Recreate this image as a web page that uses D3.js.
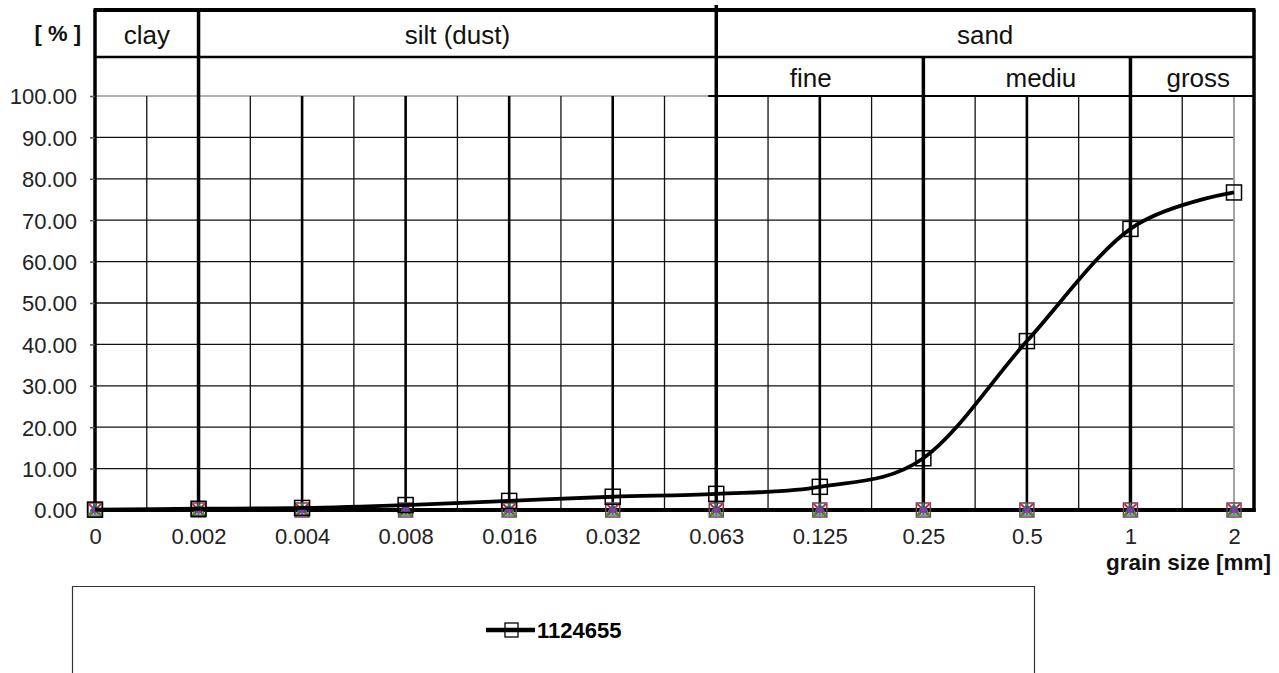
<!DOCTYPE html>
<html>
<head>
<meta charset="utf-8">
<script src="https://cdn.jsdelivr.net/npm/d3@7"></script>
<style>
html,body{margin:0;padding:0;background:#fff;}
svg{display:block;font-family:"Liberation Sans",Arial,sans-serif;}
</style>
</head>
<body>
<svg id="chart" width="1279" height="673"></svg>
<script>
// ---- data ----
const categories = ["0","0.002","0.004","0.008","0.016","0.032","0.063","0.125","0.25","0.5","1","2"];
const seriesName = "1124655";
const seriesValues = [0.1, 0.3, 0.5, 1.2, 2.2, 3.2, 3.9, 5.6, 12.5, 40.8, 67.9, 76.7];
const zeroSeriesValues = [0,0,0,0,0,0,0,0,0,0,0,0];
const yTicks = [0,10,20,30,40,50,60,70,80,90,100];
const headerTop = [{label:"clay", from:"0", to:"0.002"},{label:"silt (dust)", from:"0.002", to:"0.063"},{label:"sand", from:"0.063", to:null}];
const headerSub = [{label:"fine", from:"0.063", to:"0.25"},{label:"mediu", from:"0.25", to:"1"},{label:"gross", from:"1", to:null}];
const boundaryCats = ["0.002","0.063","0.25","1"];

(function(){
const svg = d3.select("#chart");
const x = d3.scalePoint().domain(categories).range([95, 1234]);
const y = d3.scaleLinear().domain([0,100]).range([510, 96]);
const step = x.step();
const frameR = 1254, frameTop = 10, rowMid = 57;

const g = svg.append("g");

// horizontal gridlines
g.selectAll("line.hg").data(yTicks.filter(v=>v>0 && v<100)).enter().append("line")
  .attr("x1", x("0")).attr("x2", x("2")).attr("y1", d=>y(d)).attr("y2", d=>y(d))
  .attr("stroke", "#111").attr("stroke-width", 1.3);
// 100 line (gray left part)
g.append("line").attr("x1", x("0")).attr("x2", x("0.063")).attr("y1", y(100)).attr("y2", y(100))
  .attr("stroke", "#999").attr("stroke-width", 1.5);

// minor vertical lines (midpoints)
const mids = categories.slice(0,-1).map(c => x(c) + step/2);
g.selectAll("line.mv").data(mids).enter().append("line")
  .attr("x1", d=>d).attr("x2", d=>d).attr("y1", y(100)).attr("y2", y(0))
  .attr("stroke", "#111").attr("stroke-width", 1.3);

// category vertical lines
g.selectAll("line.cv").data(categories.filter(c => c!=="0" && c!=="2" && boundaryCats.indexOf(c)<0)).enter().append("line")
  .attr("x1", d=>x(d)).attr("x2", d=>x(d)).attr("y1", y(100)).attr("y2", y(0))
  .attr("stroke", "#000").attr("stroke-width", 2.6);
// last category line gray
g.append("line").attr("x1", x("2")).attr("x2", x("2")).attr("y1", y(100)).attr("y2", y(0))
  .attr("stroke", "#999").attr("stroke-width", 1.8);

// boundary lines (thick)
g.append("line").attr("x1", x("0.002")).attr("x2", x("0.002")).attr("y1", frameTop).attr("y2", y(0)).attr("stroke","#000").attr("stroke-width",3.5);
g.append("line").attr("x1", x("0.063")).attr("x2", x("0.063")).attr("y1", frameTop-5).attr("y2", y(0)).attr("stroke","#000").attr("stroke-width",3.5);
g.append("line").attr("x1", x("0.25")).attr("x2", x("0.25")).attr("y1", rowMid).attr("y2", y(0)).attr("stroke","#000").attr("stroke-width",3.5);
g.append("line").attr("x1", x("1")).attr("x2", x("1")).attr("y1", rowMid).attr("y2", y(0)).attr("stroke","#000").attr("stroke-width",3.5);

// frame
g.append("line").attr("x1", x("0")).attr("x2", x("0")).attr("y1", frameTop).attr("y2", y(0)+2).attr("stroke","#000").attr("stroke-width",3.5);
g.append("line").attr("x1", frameR).attr("x2", frameR).attr("y1", frameTop).attr("y2", y(0)+2).attr("stroke","#000").attr("stroke-width",3.5);
g.append("line").attr("x1", x("0")-1.5).attr("x2", frameR+1.5).attr("y1", frameTop).attr("y2", frameTop).attr("stroke","#000").attr("stroke-width",4);
g.append("line").attr("x1", x("0")).attr("x2", frameR).attr("y1", rowMid).attr("y2", rowMid).attr("stroke","#000").attr("stroke-width",2.5);
g.append("line").attr("x1", x("0.063")-8).attr("x2", frameR).attr("y1", y(100)).attr("y2", y(100)).attr("stroke","#000").attr("stroke-width",2.2);

// header labels
const hx = c => c===null ? frameR : x(c);
g.selectAll("text.ht").data(headerTop).enter().append("text")
  .attr("x", d => (hx(d.from)+hx(d.to))/2).attr("y", 44)
  .attr("text-anchor","middle").attr("font-size", 26).attr("fill","#111").text(d=>d.label);
g.selectAll("text.hs").data(headerSub).enter().append("text")
  .attr("x", (d,i) => (hx(d.from)+hx(d.to))/2 + [-9,14,6][i]).attr("y", 87)
  .attr("text-anchor","middle").attr("font-size", 26).attr("fill","#111").text(d=>d.label);

// y axis
const yAxis = d3.axisLeft(y).tickValues(yTicks).tickSize(5).tickFormat(d3.format(".2f"));
const ya = g.append("g").attr("transform", `translate(${x("0")},0)`).call(yAxis);
ya.select(".domain").remove();
ya.selectAll(".tick line").attr("stroke","#555").attr("stroke-width",1.5);
ya.selectAll(".tick text").attr("font-size", 22).attr("fill","#222").attr("x",-18).attr("dy","0.36em")
  .attr("font-family","'Liberation Sans',Arial,sans-serif");

// x axis labels
const xAxis = d3.axisBottom(x).tickSize(0).tickPadding(18);
const xa = g.append("g").attr("transform", `translate(0,${y(0)})`).call(xAxis);
xa.select(".domain").remove();
xa.selectAll(".tick text").attr("font-size", 22).attr("fill","#222")
  .attr("font-family","'Liberation Sans',Arial,sans-serif");

// zero series (colored lines along baseline)
const zeroColors = ["#cc2222","#22aa22","#3333cc","#9933aa"];
zeroColors.forEach((col, k) => {
  g.append("path").datum(zeroSeriesValues)
    .attr("d", d3.line().x((d,i)=>x(categories[i])).y(d=>y(d)+1))
    .attr("fill","none").attr("stroke",col).attr("stroke-width",1.5).attr("stroke-dasharray", k%2? "6,4":"3,5").attr("opacity",0.7);
});

// baseline axis line
g.append("line").attr("x1", x("0")-1.5).attr("x2", frameR+1.5).attr("y1", y(0)).attr("y2", y(0)).attr("stroke","#000").attr("stroke-width",4);

// zero series markers
const zs = g.append("g");
categories.forEach((c,i) => {
  const cx = x(c), cy = y(zeroSeriesValues[i]);
  zs.append("rect").attr("x",cx-7).attr("y",cy-7).attr("width",14).attr("height",14).attr("fill","none").attr("stroke","#7a3a6a").attr("stroke-width",1.5);
  zs.append("path").attr("d",`M${cx-6},${cy-6}L${cx+6},${cy+6}M${cx-6},${cy+6}L${cx+6},${cy-6}`).attr("stroke","#cc2222").attr("stroke-width",1.8);
  zs.append("path").attr("d",`M${cx},${cy-6}L${cx+6},${cy+5}L${cx-6},${cy+5}Z`).attr("fill","none").attr("stroke","#22aa22").attr("stroke-width",1.5);
  zs.append("path").attr("d",`M${cx},${cy-5}L${cx+5},${cy}L${cx},${cy+5}L${cx-5},${cy}Z`).attr("fill","#4444cc").attr("opacity",0.8);
  zs.append("circle").attr("cx",cx).attr("cy",cy).attr("r",2.5).attr("fill","#9933aa");
});

// main series
const line = d3.line().x((d,i)=>x(categories[i])).y(d=>y(d)).curve(d3.curveCardinal.tension(0));
g.append("path").datum(seriesValues).attr("d", line).attr("fill","none").attr("stroke","#000").attr("stroke-width",3.8).attr("stroke-linejoin","round");
g.selectAll("rect.mk").data(seriesValues).enter().append("rect")
  .attr("x",(d,i)=>x(categories[i])-7.5).attr("y",d=>y(d)-7.5).attr("width",15).attr("height",15)
  .attr("fill","none").attr("stroke","#000").attr("stroke-width",1.5);

// labels
svg.append("text").attr("x", 81).attr("y", 41).attr("text-anchor","end").attr("font-size",22).attr("font-weight","bold").attr("fill","#111").text("[ % ]");
svg.append("text").attr("x", 1271).attr("y", 570).attr("text-anchor","end").attr("font-size",22.5).attr("font-weight","bold").attr("fill","#111").text("grain size [mm]");

// legend
const lg = svg.append("g");
lg.append("path").attr("d","M72.5,680V586.5H1034.5V680").attr("fill","none").attr("stroke","#333").attr("stroke-width",1.2);
lg.append("line").attr("x1",486).attr("x2",535).attr("y1",630).attr("y2",630).attr("stroke","#000").attr("stroke-width",4.5);
lg.append("rect").attr("x",505).attr("y",623).attr("width",13).attr("height",14).attr("fill","none").attr("stroke","#000").attr("stroke-width",1.3);
lg.append("text").attr("x",537).attr("y",638).attr("font-size",22).attr("font-weight","bold").attr("fill","#000")
  .text(seriesName);
})();
</script>
</body>
</html>
